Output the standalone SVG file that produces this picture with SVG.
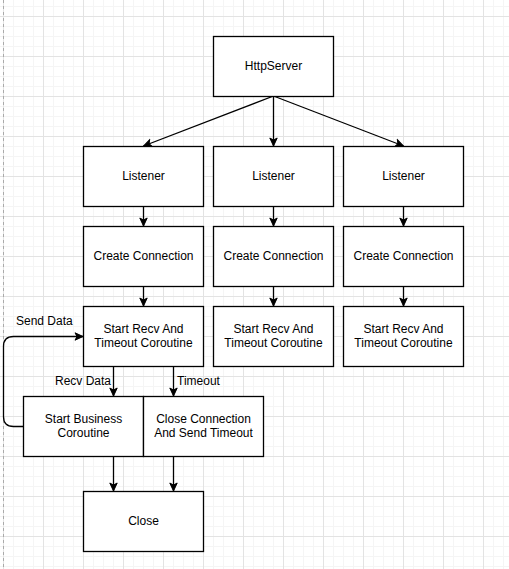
<svg xmlns="http://www.w3.org/2000/svg" width="509" height="569" viewBox="0 0 509 569">
<style>
.box{fill:#fff;stroke:#000;stroke-width:1.3}
.t{font-family:"Liberation Sans",Arial,sans-serif;font-size:12px;fill:#000;text-anchor:middle;dominant-baseline:central}
.l{font-family:"Liberation Sans",Arial,sans-serif;font-size:12px;fill:#000;dominant-baseline:central}
.c{fill:none;stroke:#000;stroke-width:1.3}
</style>
<defs>
<pattern id="grid" x="3" y="16" width="40" height="40" patternUnits="userSpaceOnUse">
<path d="M10.5 0V40M20.5 0V40M30.5 0V40M0 10.5H40M0 20.5H40M0 30.5H40" stroke="#f5f5f5" stroke-width="1" fill="none"/>
<path d="M0.5 0V40M0 0.5H40" stroke="#e3e3e3" stroke-width="1" fill="none"/>
</pattern>
<marker id="ah" markerWidth="10" markerHeight="10" viewBox="0 0 10 10" refX="9" refY="5" orient="auto" markerUnits="userSpaceOnUse">
<path d="M1 1.3L9 5L1 8.7L3 5Z" fill="#000" stroke="#000" stroke-width="1"/>
</marker>
</defs>
<rect width="509" height="569" fill="#fff"/>
<rect width="509" height="569" fill="url(#grid)"/>
<line x1="3.5" y1="0" x2="3.5" y2="569" stroke="#aaa" stroke-width="1" stroke-dasharray="3 3"/>
<g id="connectors">
<path class="c" d="M273.5 96L143.5 146" marker-end="url(#ah)"/>
<path class="c" d="M273.5 96V146" marker-end="url(#ah)"/>
<path class="c" d="M273.5 96L403.5 146" marker-end="url(#ah)"/>
<path class="c" d="M143.5 206V226" marker-end="url(#ah)"/>
<path class="c" d="M273.5 206V226" marker-end="url(#ah)"/>
<path class="c" d="M403.5 206V226" marker-end="url(#ah)"/>
<path class="c" d="M143.5 286V306" marker-end="url(#ah)"/>
<path class="c" d="M273.5 286V306" marker-end="url(#ah)"/>
<path class="c" d="M403.5 286V306" marker-end="url(#ah)"/>
<path class="c" d="M113.5 366V396" marker-end="url(#ah)"/>
<path class="c" d="M173.5 366V396" marker-end="url(#ah)"/>
<path class="c" d="M23.5 426.5H13.5Q3.5 426.5 3.5 416.5V346.5Q3.5 336.5 13.5 336.5H83" marker-end="url(#ah)"/>
<path class="c" d="M113.5 456V491" marker-end="url(#ah)"/>
<path class="c" d="M173.5 456V491" marker-end="url(#ah)"/>
<text class="l" x="16" y="321">Send Data</text>
<text class="l" x="111" y="381" text-anchor="end">Recv Data</text>
<text class="l" x="177" y="381">Timeout</text>
</g>
<g id="httpserver"><rect class="box" x="213.5" y="36.5" width="120" height="60"/><text class="t" x="273.5" y="65.7">HttpServer</text></g>
<g id="listener1"><rect class="box" x="83.5" y="146.5" width="120" height="60"/><text class="t" x="143.5" y="175.7">Listener</text></g>
<g id="listener2"><rect class="box" x="213.5" y="146.5" width="120" height="60"/><text class="t" x="273.5" y="175.7">Listener</text></g>
<g id="listener3"><rect class="box" x="343.5" y="146.5" width="120" height="60"/><text class="t" x="403.5" y="175.7">Listener</text></g>
<g id="conn1"><rect class="box" x="83.5" y="226.5" width="120" height="60"/><text class="t" x="143.5" y="255.7">Create Connection</text></g>
<g id="conn2"><rect class="box" x="213.5" y="226.5" width="120" height="60"/><text class="t" x="273.5" y="255.7">Create Connection</text></g>
<g id="conn3"><rect class="box" x="343.5" y="226.5" width="120" height="60"/><text class="t" x="403.5" y="255.7">Create Connection</text></g>
<g id="recv1"><rect class="box" x="83.5" y="306.5" width="120" height="60"/><text class="t" x="143.5" y="328.5">Start Recv And</text><text class="t" x="143.5" y="343.3">Timeout Coroutine</text></g>
<g id="recv2"><rect class="box" x="213.5" y="306.5" width="120" height="60"/><text class="t" x="273.5" y="328.5">Start Recv And</text><text class="t" x="273.5" y="343.3">Timeout Coroutine</text></g>
<g id="recv3"><rect class="box" x="343.5" y="306.5" width="120" height="60"/><text class="t" x="403.5" y="328.5">Start Recv And</text><text class="t" x="403.5" y="343.3">Timeout Coroutine</text></g>
<g id="business"><rect class="box" x="23.5" y="396.5" width="120" height="60"/><text class="t" x="83.5" y="418.5">Start Business</text><text class="t" x="83.5" y="433.3">Coroutine</text></g>
<g id="closeconn"><rect class="box" x="143.5" y="396.5" width="120" height="60"/><text class="t" x="203.5" y="418.5">Close Connection</text><text class="t" x="203.5" y="433.3">And Send Timeout</text></g>
<g id="close"><rect class="box" x="83.5" y="491.5" width="120" height="60"/><text class="t" x="143.5" y="520.7">Close</text></g>
</svg>
